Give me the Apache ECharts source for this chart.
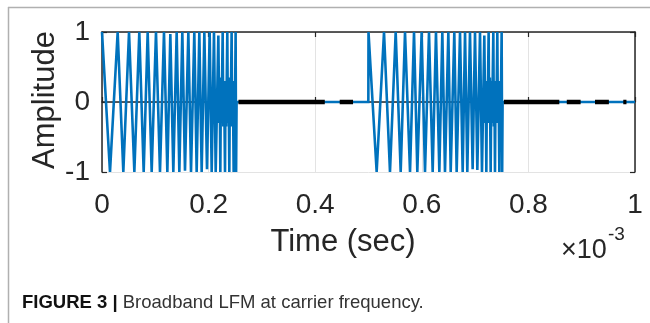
<!DOCTYPE html>
<html>
<head>
<meta charset="utf-8">
<script src="https://cdn.jsdelivr.net/npm/echarts@6/dist/echarts.min.js"></script>
<style>
html,body{margin:0;padding:0;background:#fff;}
#chart{width:650px;height:323px;}
</style>
</head>
<body>
<div id="chart"></div>
<script>
// ---- data (time in units of 1e-3 s) ----
const xTicks = [0, 0.2, 0.4, 0.6, 0.8, 1];
const xTickLabels = ['0', '0.2', '0.4', '0.6', '0.8', '1'];
const yTicks = [-1, 0, 1];
const yTickLabels = ['-1', '0', '1'];

// first LFM burst: vertices
const burst1Time = [0.0000, 0.0150, 0.0294, 0.0400, 0.0507, 0.0607, 0.0700, 0.0782, 0.0857, 0.0932,
  0.1013, 0.1088, 0.1163, 0.1226, 0.1282, 0.1338, 0.1401, 0.1451, 0.1507, 0.1557,
  0.1620, 0.1670, 0.1732, 0.1776, 0.1826, 0.1870, 0.1920, 0.1970, 0.2020, 0.2058,
  0.2101, 0.2133, 0.2183, 0.2200, 0.2208, 0.2220, 0.2232, 0.2242, 0.2264, 0.2276,
  0.2290, 0.2308, 0.2318, 0.2330, 0.2351, 0.2362, 0.2375, 0.2389, 0.2400, 0.2412,
  0.2432, 0.2443, 0.2455, 0.2470, 0.2482, 0.2493, 0.2507, 0.2516, 0.2525];
const burst1Amp = [1, -1, 1, -1, 1, -1, 1, -1, 1, -1,
  1, -1, 1, -1, 0.97, -1, 1, -1, 1, -0.98,
  1, -1, 1, -1, 1, -1, 1, -0.96, 1, -1,
  1, -1, 0.95, -0.3, 0.3, -1, 0.35, -0.3, 1, -0.35,
  0.3, -1, 0.3, -0.35, 1, -0.3, 0.35, -1, 0.3, -0.3,
  1, -0.35, 0.3, -1, 0.3, -0.3, 1, -1, 0];

// silent interval after first burst
const gap1Time = [0.2525, 0.4997];
const gap1Amp = [0, 0];

// second LFM burst
const burst2Time = [0.4997, 0.5000, 0.5153, 0.5291, 0.5403, 0.5510, 0.5604, 0.5685, 0.5779, 0.5854,
  0.5916, 0.5997, 0.6060, 0.6135, 0.6204, 0.6266, 0.6329, 0.6385, 0.6435, 0.6498,
  0.6542, 0.6610, 0.6654, 0.6717, 0.6767, 0.6811, 0.6854, 0.6904, 0.6954, 0.6998,
  0.7042, 0.7092, 0.7129, 0.7173, 0.7190, 0.7198, 0.7211, 0.7222, 0.7232, 0.7254,
  0.7265, 0.7276, 0.7292, 0.7305, 0.7318, 0.7342, 0.7352, 0.7362, 0.7373, 0.7385,
  0.7398, 0.7417, 0.7428, 0.7440, 0.7455, 0.7466, 0.7478, 0.7498, 0.7508, 0.7516];
const burst2Amp = [0, 1, -1, 1, -1, 1, -1, 1, -1, 1,
  -1, 1, -1, 1, -1, 1, -1, 1, -1, 1,
  -1, 1, -1, 1, -1, 1, -1, 1, -0.96, 1,
  -0.97, 1, -1, 0.95, -0.3, 0.3, -1, 0.3, -0.3, 1,
  -0.3, 0.35, -1, 0.3, -0.3, 1, -0.35, 0.3, -1, 0.3,
  -0.3, 1, -0.3, 0.3, -1, 0.3, -0.35, 1, -1, 0];

// silent interval after second burst
const gap2Time = [0.7516, 1.0];
const gap2Amp = [0, 0];

// black dashed reference line segments at amplitude 0
const dashStart = [0.256, 0.446, 0.754, 0.872, 0.925, 0.978];
const dashEnd   = [0.418, 0.471, 0.858, 0.898, 0.951, 0.984];

// ---- build series data ----
function pairs(t, a) { return t.map((v, i) => [v, a[i]]); }
const blueData = [].concat(
  pairs(burst1Time, burst1Amp),
  pairs(gap1Time, gap1Amp),
  pairs(burst2Time, burst2Amp),
  pairs(gap2Time, gap2Amp)
);
const dashData = [];
dashStart.forEach((s, i) => {
  dashData.push([s, 0], [dashEnd[i], 0]);
  if (i < dashStart.length - 1) dashData.push([null, null]);
});

const FONT = '"Liberation Sans", Arial, Helvetica, sans-serif';
const AXC = '#262626';
const G = { left: 102, top: 32, width: 533, height: 140 };

const chart = echarts.init(document.getElementById('chart'), null, { renderer: 'canvas' });
const option = {
  animation: false,
  backgroundColor: '#ffffff',
  grid: { left: G.left, top: G.top, width: G.width, height: G.height, containLabel: false },
  xAxis: [{
    type: 'value', min: 0, max: 1, interval: 0.2,
    axisLine: { show: true, lineStyle: { color: AXC, width: 1.5 } },
    axisTick: { show: true, inside: true, length: 5, lineStyle: { color: AXC, width: 1.2 } },
    axisLabel: {
      show: true, margin: 19, fontSize: 28, fontFamily: FONT, color: AXC,
      showMinLabel: true, showMaxLabel: true,
      formatter: v => { const i = xTicks.findIndex(t => Math.abs(t - v) < 1e-6); return i >= 0 ? xTickLabels[i] : ''; }
    },
    splitLine: { show: true, lineStyle: { color: '#e3e3e3', width: 1 } }
  }, {
    type: 'value', position: 'top', min: 0, max: 1, interval: 0.2,
    axisLine: { show: true, onZero: false, lineStyle: { color: AXC, width: 1.5 } },
    axisTick: { show: true, inside: true, length: 5, lineStyle: { color: AXC, width: 1.2 } },
    axisLabel: { show: false }, splitLine: { show: false }
  }],
  yAxis: [{
    type: 'value', min: -1, max: 1, interval: 1,
    axisLine: { show: true, onZero: false, lineStyle: { color: AXC, width: 1.5 } },
    axisTick: { show: true, inside: true, length: 5, lineStyle: { color: AXC, width: 1.2 } },
    axisLabel: {
      show: true, margin: 12, fontSize: 28, fontFamily: FONT, color: AXC,
      formatter: v => { const i = yTicks.findIndex(t => Math.abs(t - v) < 1e-6); return i >= 0 ? yTickLabels[i] : ''; }
    },
    splitLine: { show: true, lineStyle: { color: '#e3e3e3', width: 1 } }
  }, {
    type: 'value', position: 'right', min: -1, max: 1, interval: 1,
    axisLine: { show: true, onZero: false, lineStyle: { color: AXC, width: 1.5 } },
    axisTick: { show: true, inside: true, length: 5, lineStyle: { color: AXC, width: 1.2 } },
    axisLabel: { show: false }, splitLine: { show: false }
  }],
  series: [{
    type: 'line', xAxisIndex: 0, yAxisIndex: 0, data: blueData,
    showSymbol: false, symbol: 'none', clip: true,
    lineStyle: { color: '#0072BD', width: 2.6, join: 'miter' }
  }, {
    type: 'line', xAxisIndex: 0, yAxisIndex: 0, data: dashData,
    showSymbol: false, symbol: 'none', connectNulls: false,
    lineStyle: { color: '#000000', width: 4.6, cap: 'butt' }
  }],
  graphic: [
    { type: 'line', shape: { x1: 8, y1: 7.5, x2: 650, y2: 7.5 }, style: { stroke: '#b0b0b0', lineWidth: 1.5 } },
    { type: 'line', shape: { x1: 8.5, y1: 7, x2: 8.5, y2: 323 }, style: { stroke: '#b0b0b0', lineWidth: 1.5 } },
    { type: 'text', x: 343, y: 242, style: { text: 'Time (sec)', font: '31px ' + FONT, fill: AXC, textAlign: 'center', textVerticalAlign: 'middle' } },
    { type: 'text', x: 45, y: 100, rotation: Math.PI / 2, style: { text: 'Amplitude', font: '31px ' + FONT, fill: AXC, textAlign: 'center', textVerticalAlign: 'middle' } },
    { type: 'text', x: 561, y: 251, style: { text: '×10', font: '27px ' + FONT, fill: AXC, textAlign: 'left', textVerticalAlign: 'middle' } },
    { type: 'text', x: 608, y: 235, style: { text: '-3', font: '19px ' + FONT, fill: AXC, textAlign: 'left', textVerticalAlign: 'middle' } },
    { type: 'text', x: 22, y: 303, style: {
        text: '{b|FIGURE 3 |} Broadband LFM at carrier frequency.',
        font: '18.5px ' + FONT, fill: '#333333', textAlign: 'left', textVerticalAlign: 'middle',
        rich: { b: { fontWeight: 'bold', fontSize: 18.5, fontFamily: FONT, fill: '#111111' } }
    } }
  ]
};
chart.setOption(option);
</script>
</body>
</html>
